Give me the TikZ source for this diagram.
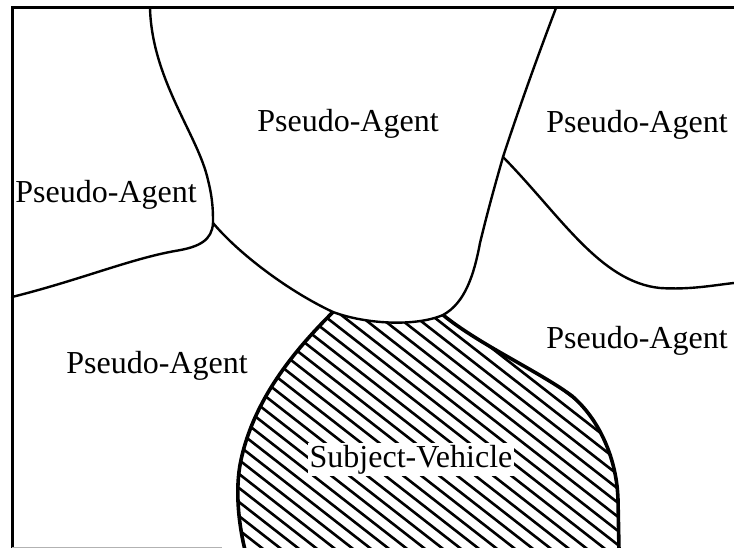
\documentclass[tikz,border=0pt]{standalone}
\usepackage{fontspec}
\setmainfont{Liberation Serif}
\newcommand\blobpath{(333,312) .. controls (300,345) and (255,395) .. (241,460) .. controls (234,492) and (240,530) .. (245,550) -- (619,550) -- (618,500) .. controls (617,460) and (600,420) .. (572,396) .. controls (540,372) and (480,345) .. (443,315) .. controls (415,327) and (365,324) .. cycle}
\begin{document}
\begin{tikzpicture}[x=1pt,y=-1pt,
  frameline/.style={line width=3pt},
  regionline/.style={line width=2.4pt, line cap=round, line join=round},
  blobline/.style={line width=3.6pt, line join=round},
  hatchline/.style={line width=2.6pt},
  agentlabel/.style={font=\fontsize{32}{38}\selectfont, inner sep=0pt, anchor=base},
  vehiclelabel/.style={font=\fontsize{32}{38}\selectfont, inner sep=2pt, anchor=base, fill=white}]
\useasboundingbox (0,0) rectangle (734,548);
% named points
\coordinate (TL) at (12,8);
\coordinate (TR) at (734,8);
\coordinate (BL) at (12,548);
\coordinate (AT) at (150,8);
\coordinate (J1) at (213,223);
\coordinate (LE) at (12,297);
\coordinate (J2) at (503,157);
\coordinate (BT) at (556,8);
\coordinate (RE) at (734,283);
\coordinate (SL) at (333,312);
\coordinate (SR) at (443,315);
% hatching of the subject vehicle
\begin{scope}
  \clip \blobpath;
  \foreach \i in {0,...,45} {
    \draw[hatchline] ({-110+\i*18},300) -- ++(350,273);
  }
\end{scope}
\node[vehiclelabel] (sv) at (411,467) {Subject-Vehicle};
% outline of the subject vehicle
\draw[blobline] (SL) .. controls (300,345) and (255,395) .. (241,460) .. controls (234,492) and (240,530) .. (245,550);
\draw[blobline] (619,550) -- (618,500) .. controls (617,460) and (600,420) .. (572,396) .. controls (540,372) and (480,345) .. (SR);
% region boundaries
\draw[regionline] (AT) .. controls (152,80) and (198,135) .. (208,180) .. controls (213,200) and (213,212) .. (J1);
\draw[regionline] (J1) .. controls (212,240) and (200,247) .. (175,251) .. controls (130,259) and (80,280) .. (LE);
\draw[regionline] (J1) .. controls (240,255) and (290,292) .. (SL) .. controls (365,324) and (415,327) .. (SR) .. controls (465,303) and (474,275) .. (480,243) .. controls (488,210) and (495,185) .. (J2);
\draw[regionline] (J2) .. controls (520,105) and (540,50) .. (BT);
\draw[regionline] (J2) .. controls (560,215) and (600,282) .. (660,288) .. controls (690,290) and (715,285) .. (RE);
% frame
\draw[frameline] (BL) -- (TL) -- (TR);
\draw[gray!60, line width=1pt] (BL) ++(0,-1) coordinate (BLa) -- ++(210,0) coordinate (BLb);
% labels
\node[agentlabel] (pa1) at (348,132) {Pseudo-Agent};
\node[agentlabel] (pa2) at (637,133) {Pseudo-Agent};
\node[agentlabel] (pa3) at (106,203) {Pseudo-Agent};
\node[agentlabel] (pa4) at (157,373) {Pseudo-Agent};
\node[agentlabel] (pa5) at (637,348) {Pseudo-Agent};
\end{tikzpicture}
\end{document}
